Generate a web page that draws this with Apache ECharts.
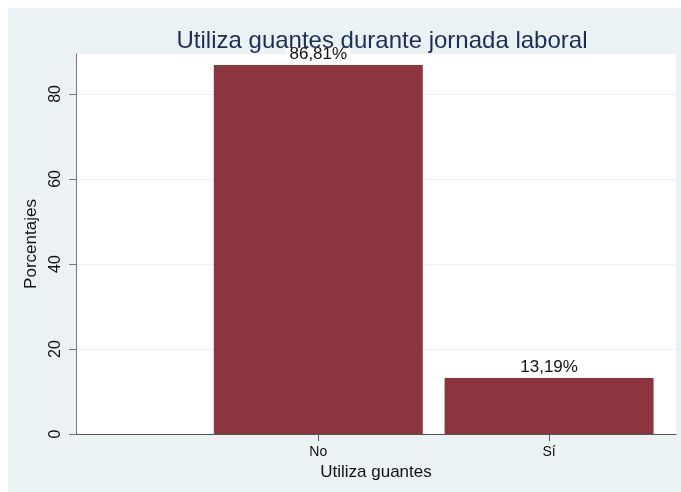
<!DOCTYPE html>
<html>
<head>
<meta charset="utf-8">
<script src="https://cdn.jsdelivr.net/npm/echarts@6/dist/echarts.min.js"></script>
<style>html,body{margin:0;padding:0;background:#fff;}#c{width:681px;height:492px;}</style>
</head>
<body>
<div id="c"></div>
<script>
var categories = ["No", "Sí"];
var positions = [1, 2];
var percentages = [86.81, 13.19];
var yTicks = [0, 20, 40, 60, 80];

var font = "Liberation Sans, Arial, sans-serif";
var chart = echarts.init(document.getElementById('c'));
chart.setOption({
  backgroundColor: '#ffffff',
  animation: false,
  graphic: [{
    type: 'rect', z: -10, silent: true,
    shape: {x: 8, y: 8, width: 673, height: 484},
    style: {fill: '#eaf2f3'}
  }],
  title: {
    text: 'Utiliza guantes durante jornada laboral',
    left: 377, top: 24, textAlign: 'center',
    textStyle: {fontFamily: font, fontSize: 24, fontWeight: 'normal', color: '#1e2d58'}
  },
  grid: {
    left: 76, right: 5, top: 54, bottom: 58,
    show: true, backgroundColor: '#ffffff', borderWidth: 0
  },
  xAxis: {
    type: 'value', min: -0.05, max: 2.55,
    name: 'Utiliza guantes', nameLocation: 'middle', nameGap: 22,
    nameTextStyle: {fontFamily: font, fontSize: 17, color: '#111'},
    axisLine: {show: true, onZero: false, lineStyle: {color: '#555', width: 1}},
    axisTick: {show: true, length: 7, customValues: positions, lineStyle: {color: '#555'}},
    axisLabel: {
      customValues: positions, margin: 11,
      fontFamily: font, fontSize: 14, color: '#111',
      formatter: function (v) { var i = positions.indexOf(v); return i >= 0 ? categories[i] : ''; }
    },
    splitLine: {show: false}
  },
  yAxis: {
    type: 'value', min: 0, max: 89.4, interval: 20,
    name: 'Porcentajes', nameLocation: 'middle', nameGap: 31, nameRotate: 90,
    nameTextStyle: {fontFamily: font, fontSize: 17, color: '#111'},
    axisLine: {show: true, onZero: false, lineStyle: {color: '#777', width: 1}},
    axisTick: {show: true, length: 7, customValues: yTicks, lineStyle: {color: '#777'}},
    axisLabel: {
      customValues: yTicks, rotate: 90, margin: 12,
      fontFamily: font, fontSize: 16, color: '#111'
    },
    splitLine: {show: true, lineStyle: {color: '#eaf2f3', width: 1}}
  },
  series: [{
    type: 'bar',
    barWidth: 209,
    data: positions.map(function (p, i) { return [p, percentages[i]]; }),
    itemStyle: {color: '#8c353f'},
    label: {
      show: true, position: 'top', distance: 2,
      fontFamily: font, fontSize: 17, color: '#111',
      backgroundColor: '#ffffff', padding: [0, 3],
      formatter: function (p) { return p.value[1].toFixed(2).replace('.', ',') + '%'; }
    }
  }]
});
</script>
</body>
</html>
